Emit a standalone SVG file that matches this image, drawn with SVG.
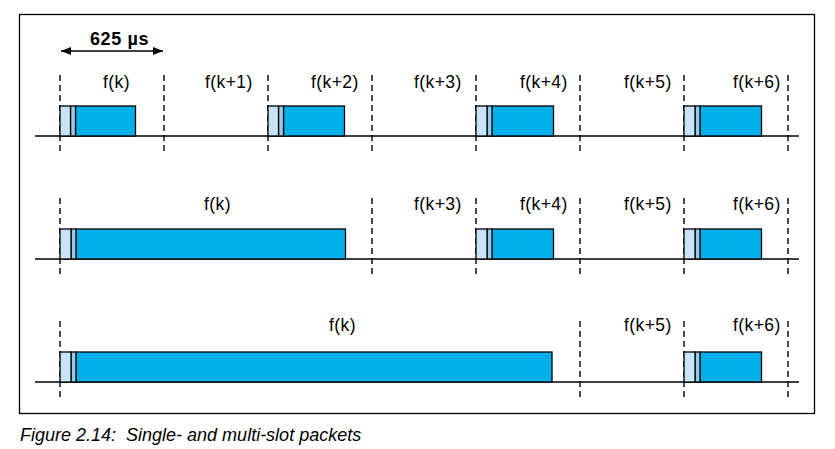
<svg xmlns="http://www.w3.org/2000/svg" width="835" height="449" viewBox="0 0 835 449">
<style>
.frame{fill:none;stroke:#000;stroke-width:1.3}
.base{stroke:#000;stroke-width:1.5}
.dash{stroke:#000;stroke-width:1.4;stroke-dasharray:6,4}
.lt{fill:#C6E4F8;stroke:#000;stroke-width:1.3}
.md{fill:#8FCDEE;stroke:#000;stroke-width:1.3}
.dk{fill:#00B0EA;stroke:#000;stroke-width:1.3}
.lbl{font-family:"Liberation Sans",Arial,sans-serif;font-size:17.5px;fill:#000;letter-spacing:0.4px}
.dim{font-family:"Liberation Sans",Arial,sans-serif;font-size:18px;font-weight:bold;fill:#000;letter-spacing:0.6px}
.cap{font-family:"Liberation Sans",Arial,sans-serif;font-size:18px;font-style:italic;fill:#000;white-space:pre}
</style>
<defs>
<marker id="ah" viewBox="0 0 10 8" refX="10" refY="4" markerWidth="10" markerHeight="8" markerUnits="userSpaceOnUse" orient="auto-start-reverse">
<path d="M0,0 L10,4 L0,8 Z" fill="#000"/>
</marker>
</defs>
<rect class="frame" x="19.5" y="14.5" width="795" height="399"/>
<g id="connectors">
<line class="base" x1="35" y1="136" x2="799" y2="136"/>
<line class="base" x1="35" y1="259" x2="799" y2="259"/>
<line class="base" x1="35" y1="382" x2="799" y2="382"/>
<line x1="61" y1="51" x2="163" y2="51" stroke="#000" stroke-width="1.4" marker-start="url(#ah)" marker-end="url(#ah)"/>
<g class="dash">
<line x1="60" y1="75" x2="60" y2="154"/><line x1="164" y1="75" x2="164" y2="154"/><line x1="268" y1="75" x2="268" y2="154"/><line x1="372" y1="75" x2="372" y2="154"/><line x1="476" y1="75" x2="476" y2="154"/><line x1="580" y1="75" x2="580" y2="154"/><line x1="684" y1="75" x2="684" y2="154"/><line x1="788" y1="75" x2="788" y2="154"/>
<line x1="60" y1="198" x2="60" y2="277"/><line x1="372" y1="198" x2="372" y2="277"/><line x1="476" y1="198" x2="476" y2="277"/><line x1="580" y1="198" x2="580" y2="277"/><line x1="684" y1="198" x2="684" y2="277"/><line x1="788" y1="198" x2="788" y2="277"/>
<line x1="60" y1="321" x2="60" y2="400"/><line x1="580" y1="321" x2="580" y2="400"/><line x1="684" y1="321" x2="684" y2="400"/><line x1="788" y1="321" x2="788" y2="400"/>
</g>
</g>
<text class="dim" x="90" y="45">625 µs</text>
<g id="row1">
<g id="r1p0"><rect class="dk" x="75.5" y="106" width="60" height="30"/><rect class="md" x="70.5" y="106" width="5" height="30"/><rect class="lt" x="60" y="106" width="10.5" height="30"/></g>
<g id="r1p2"><rect class="dk" x="283.5" y="106" width="61" height="30"/><rect class="md" x="278.5" y="106" width="5" height="30"/><rect class="lt" x="268" y="106" width="10.5" height="30"/></g>
<g id="r1p4"><rect class="dk" x="492" y="106" width="61.5" height="30"/><rect class="md" x="487" y="106" width="5" height="30"/><rect class="lt" x="476" y="106" width="11" height="30"/></g>
<g id="r1p6"><rect class="dk" x="700" y="106" width="61.5" height="30"/><rect class="md" x="695" y="106" width="5" height="30"/><rect class="lt" x="684" y="106" width="11" height="30"/></g>
<text class="lbl" x="103" y="88">f(k)</text>
<text class="lbl" x="205" y="88">f(k+1)</text>
<text class="lbl" x="311" y="88">f(k+2)</text>
<text class="lbl" x="414" y="88">f(k+3)</text>
<text class="lbl" x="520" y="88">f(k+4)</text>
<text class="lbl" x="624" y="88">f(k+5)</text>
<text class="lbl" x="733" y="88">f(k+6)</text>
</g>
<g id="row2">
<g id="r2p0"><rect class="dk" x="76" y="229" width="269.5" height="30"/><rect class="md" x="71" y="229" width="5" height="30"/><rect class="lt" x="60" y="229" width="11" height="30"/></g>
<g id="r2p4"><rect class="dk" x="492" y="229" width="61.5" height="30"/><rect class="md" x="487" y="229" width="5" height="30"/><rect class="lt" x="476" y="229" width="11" height="30"/></g>
<g id="r2p6"><rect class="dk" x="700" y="229" width="61.5" height="30"/><rect class="md" x="695" y="229" width="5" height="30"/><rect class="lt" x="684" y="229" width="11" height="30"/></g>
<text class="lbl" x="204" y="210">f(k)</text>
<text class="lbl" x="414" y="210">f(k+3)</text>
<text class="lbl" x="520" y="210">f(k+4)</text>
<text class="lbl" x="624" y="210">f(k+5)</text>
<text class="lbl" x="733" y="210">f(k+6)</text>
</g>
<g id="row3">
<g id="r3p0"><rect class="dk" x="76" y="352" width="476" height="30"/><rect class="md" x="71" y="352" width="5" height="30"/><rect class="lt" x="60" y="352" width="11" height="30"/></g>
<g id="r3p6"><rect class="dk" x="700" y="352" width="61.5" height="30"/><rect class="md" x="695" y="352" width="5" height="30"/><rect class="lt" x="684" y="352" width="11" height="30"/></g>
<text class="lbl" x="329" y="331">f(k)</text>
<text class="lbl" x="624" y="331">f(k+5)</text>
<text class="lbl" x="733" y="331">f(k+6)</text>
</g>
<text class="cap" x="20" y="441" xml:space="preserve">Figure 2.14:  Single- and multi-slot packets</text>
</svg>
